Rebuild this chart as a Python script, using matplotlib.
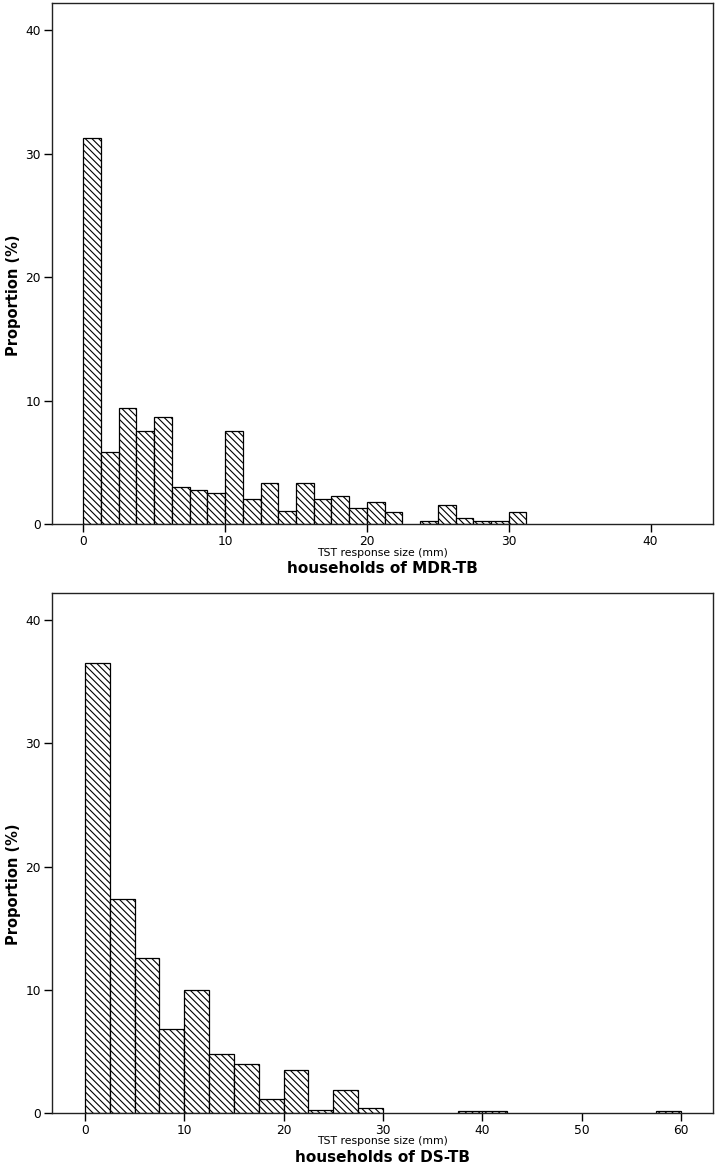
import matplotlib
matplotlib.use("Agg")
import matplotlib.pyplot as plt
import numpy as np

plt.rcParams['font.family'] = ['DejaVu Sans']
plt.rcParams['hatch.linewidth'] = 0.8

# histogram data: proportion (%) per bin of TST response size (mm)
mdr_bin_width = 1.25
mdr_values = [31.3, 5.8, 9.38, 7.57, 8.65, 3.03, 2.78, 2.51, 7.57, 2.03,
              3.3, 1.05, 3.3, 2.03, 2.27, 1.27, 1.78, 1.0, 0.0, 0.27,
              1.5, 0.5, 0.25, 0.25, 1.0]
mdr_xticks = [0, 10, 20, 30, 40]

ds_bin_width = 2.5
ds_values = [36.5, 17.4, 12.6, 6.85, 10.0, 4.8, 4.0, 1.15, 3.45, 0.27,
             1.9, 0.38, 0.0, 0.0, 0.0, 0.15, 0.15, 0.0, 0.0, 0.0,
             0.0, 0.0, 0.0, 0.15]
ds_xticks = [0, 10, 20, 30, 40, 50, 60]

yticks = [0, 10, 20, 30, 40]
xlabel = "TST response size (mm)"
ylabel = "Proportion (%)"
titles = ["households of MDR-TB", "households of DS-TB"]

fig = plt.figure(figsize=(7.17, 11.67), dpi=100)
ax1 = fig.add_axes([52 / 717, 643 / 1167, 661 / 717, 521 / 1167])
ax2 = fig.add_axes([52 / 717, 54 / 1167, 661 / 717, 520 / 1167])


def draw_hist(ax, width, values, xticks, xlim, title):
    values = np.asarray(values)
    lefts = np.arange(len(values)) * width
    keep = values > 0
    ax.bar(lefts[keep], values[keep], width=width, align='edge',
           facecolor='white', edgecolor='black', linewidth=0.9,
           hatch='\\\\\\\\\\')
    ax.set_xlim(*xlim)
    ax.set_ylim(0, 42.2)
    ax.set_xticks(xticks)
    ax.set_yticks(yticks)
    ax.tick_params(direction='out', length=6, width=1.0, labelsize=8.8,
                   colors='black', pad=2)
    for s in ax.spines.values():
        s.set_linewidth(1.0)
        s.set_color('#222222')
    ax.text(0.5, -28.5 / 521, xlabel, transform=ax.transAxes,
            ha='center', va='center', fontsize=7.8)
    ax.text(0.5, -44.5 / 521, title, transform=ax.transAxes,
            ha='center', va='center', fontsize=11, fontweight='bold')
    ax.set_ylabel(ylabel, fontsize=10.5, fontweight='bold')
    ax.yaxis.set_label_coords(-31 / 661, 0.44)


draw_hist(ax1, mdr_bin_width, mdr_values, mdr_xticks, (-2.2, 44.4), titles[0])
draw_hist(ax2, ds_bin_width, ds_values, ds_xticks, (-3.3, 63.2), titles[1])

fig.savefig("out.png", dpi=100)
